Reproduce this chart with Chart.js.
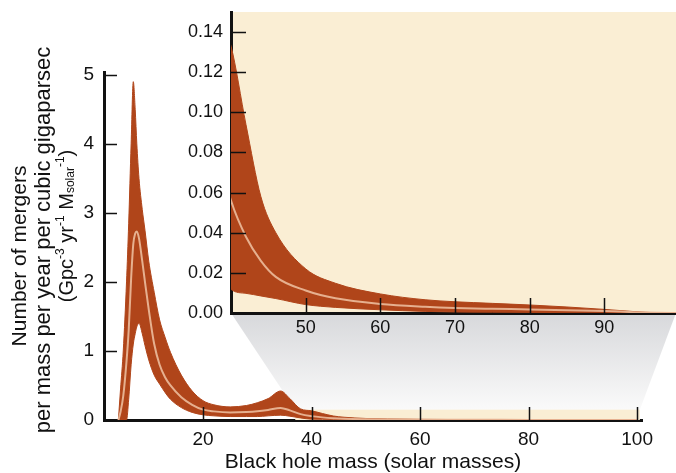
<!DOCTYPE html>
<html lang="en">
<head>
  <meta charset="UTF-8" />
  <title>Black hole merger rate</title>
  <script src="https://cdn.jsdelivr.net/npm/chart.js"></script>
  <style>
    html, body { margin: 0; padding: 0; background: #fff; }
    .wrap { position: relative; width: 676px; height: 473px; }
    .wrap canvas { position: absolute; left: 0; top: 0; }
  </style>
</head>
<body>
  <div class="wrap">
    <canvas id="mainChart" width="676" height="473"></canvas>
    <canvas id="insetChart" width="676" height="473"></canvas>
  </div>

  <script>
    // black hole mass (solar masses)
    const massX = [4.4, 4.8, 5.3, 5.9, 6.3, 6.75, 7.15, 7.5, 7.8, 8.2, 8.8, 9.3, 10, 11, 12, 13, 14, 16, 18, 20,
      22, 25, 28, 30, 32, 34.3, 36, 38, 40, 42, 44, 46, 50, 54, 60, 66, 70, 75, 80, 85, 90, 94, 97, 100];
    // upper edge of the band
    const upperRate = [0, 0.45, 1.0, 2.0, 2.85, 4.0, 4.9, 4.5, 4.0, 3.5, 3.05, 2.75, 2.3, 1.85, 1.45, 1.2, 0.98, 0.65, 0.42, 0.28,
      0.22, 0.19, 0.21, 0.25, 0.31, 0.42, 0.31, 0.16, 0.133, 0.094, 0.058, 0.04, 0.022, 0.0148, 0.0095, 0.0066, 0.0056, 0.0048, 0.004, 0.003, 0.0018, 0.0007, 0.0001, 0];
    // median (light line)
    const medianRate = [0, 0.12, 0.35, 0.85, 1.3, 2.05, 2.55, 2.7, 2.73, 2.63, 2.3, 2.0, 1.6, 1.1, 0.8, 0.62, 0.5, 0.33, 0.22, 0.15,
      0.125, 0.11, 0.115, 0.125, 0.145, 0.175, 0.14, 0.085, 0.056, 0.038, 0.026, 0.018, 0.0112, 0.0073, 0.0045, 0.0031, 0.0025, 0.0021, 0.0018, 0.0014, 0.001, 0.0004, 0.0001, 0];
    // lower edge of the band
    const lowerRate = [0, 0, 0, 0, 0.3, 0.8, 1.1, 1.25, 1.35, 1.4, 1.25, 1.08, 0.87, 0.65, 0.52, 0.4, 0.3, 0.18, 0.11, 0.075,
      0.06, 0.05, 0.05, 0.05, 0.06, 0.07, 0.055, 0.03, 0.0118, 0.0098, 0.0085, 0.0072, 0.0042, 0.0028, 0.0016, 0.0008, 0.0005, 0.0004, 0.0003, 0.0002, 0.0001, 0, 0, 0];

    const mainXTicks = [20, 40, 60, 80, 100];
    const mainYTicks = [0, 1, 2, 3, 4, 5];
    const insetXTicks = [50, 60, 70, 80, 90];
    const insetYTicks = [0, 0.02, 0.04, 0.06, 0.08, 0.10, 0.12, 0.14];

    // zoomed window shown in the inset
    const zoomBoxX = [37, 100.5];
    const zoomBoxY = [0, 0.15];

    const xTitle = 'Black hole mass (solar masses)';
    const yTitleLines = ['Number of mergers', 'per mass per year per cubic gigaparsec'];

    const bandColor = '#b0451a';
    const medianColor = '#e6b08f';
    const cream = '#faeed4';
    const ink = '#111111';

    Chart.defaults.font.family = "'Liberation Sans', Arial, sans-serif";
    Chart.defaults.color = ink;

    const pts = arr => massX.map((x, i) => ({ x: x, y: arr[i] }));

    // median first so it is painted last (on top of the band)
    function makeDatasets() {
      return [
        { data: pts(medianRate), borderColor: medianColor, borderWidth: 2, pointRadius: 0, fill: false, cubicInterpolationMode: 'monotone' },
        { data: pts(lowerRate), borderColor: bandColor, borderWidth: 1, pointRadius: 0, fill: false, cubicInterpolationMode: 'monotone' },
        { data: pts(upperRate), borderColor: bandColor, borderWidth: 1, pointRadius: 0, backgroundColor: bandColor, fill: '-1', cubicInterpolationMode: 'monotone' },
      ];
    }

    // tick marks that point into the plot area
    function inwardTicks(len) {
      return {
        id: 'inwardTicks',
        afterDraw(chart) {
          const { ctx, chartArea: a, scales: { x, y } } = chart;
          ctx.save();
          ctx.strokeStyle = ink;
          ctx.lineWidth = 1.5;
          ctx.beginPath();
          x.ticks.forEach(t => {
            const px = Math.round(x.getPixelForValue(t.value)) + 0.5;
            ctx.moveTo(px, a.bottom);
            ctx.lineTo(px, a.bottom - len);
          });
          y.ticks.forEach(t => {
            const py = Math.round(y.getPixelForValue(t.value)) + 0.5;
            ctx.moveTo(a.left, py);
            ctx.lineTo(a.left + len, py);
          });
          ctx.stroke();
          ctx.restore();
        }
      };
    }

    const noPadX = s => { s.paddingLeft = 0; s.paddingRight = 0; };
    const noPadY = s => { s.paddingTop = 0; s.paddingBottom = 0; };

    // ---------- inset ----------
    const insetBg = {
      id: 'insetBg',
      beforeDraw(chart) {
        const { ctx, chartArea: a } = chart;
        ctx.save();
        ctx.fillStyle = cream;
        ctx.fillRect(a.left, a.top, a.right - a.left, a.bottom - a.top);
        ctx.restore();
      }
    };

    const insetChart = new Chart(document.getElementById('insetChart'), {
      type: 'line',
      data: { datasets: makeDatasets() },
      options: {
        responsive: false,
        animation: false,
        layout: { padding: { left: 0, right: 0, top: 12, bottom: 0 } },
        plugins: { legend: { display: false }, tooltip: { enabled: false } },
        scales: {
          x: {
            type: 'linear', min: 40, max: 99.6, z: 1,
            afterBuildTicks: s => { s.ticks = insetXTicks.map(v => ({ value: v })); },
            afterFit: s => { s.height = 160; noPadX(s); },
            grid: { display: false, drawTicks: false },
            border: { display: true, color: ink, width: 3 },
            ticks: { padding: 4, maxRotation: 0, font: { size: 18 } }
          },
          y: {
            type: 'linear', min: 0, max: 0.15, z: 1,
            afterBuildTicks: s => { s.ticks = insetYTicks.map(v => ({ value: v })); },
            afterFit: s => { s.width = 231; noPadY(s); },
            grid: { display: false, drawTicks: false },
            border: { display: true, color: ink, width: 3 },
            ticks: { padding: 8, font: { size: 18 }, callback: v => Number(v).toFixed(2) }
          }
        }
      },
      plugins: [insetBg, inwardTicks(15)]
    });

    // ---------- main chart ----------
    const zoomGuide = {
      id: 'zoomGuide',
      beforeDatasetsDraw(chart) {
        const { ctx, scales: { x, y } } = chart;
        const ia = insetChart.chartArea;
        const bx0 = x.getPixelForValue(zoomBoxX[0]);
        const bx1 = x.getPixelForValue(zoomBoxX[1]);
        const by0 = y.getPixelForValue(zoomBoxY[0]);
        const by1 = y.getPixelForValue(zoomBoxY[1]);
        const g = ctx.createLinearGradient(0, ia.bottom, 0, by1);
        g.addColorStop(0, '#d7d8db');
        g.addColorStop(1, '#fafafa');
        ctx.save();
        ctx.fillStyle = g;
        ctx.beginPath();
        ctx.moveTo(ia.left, ia.bottom);
        ctx.lineTo(ia.right, ia.bottom);
        ctx.lineTo(bx1, by1);
        ctx.lineTo(bx0, by1);
        ctx.closePath();
        ctx.fill();
        ctx.fillStyle = cream;
        ctx.fillRect(bx0, by1, bx1 - bx0, by0 - by1);
        ctx.restore();
      }
    };

    // y title drawn by hand so it can run past the axis and carry sub/superscripts
    const yTitle = {
      id: 'yTitle',
      afterDraw(chart) {
        const { ctx } = chart;
        const fam = Chart.defaults.font.family;
        const xs = [20, 44, 67];
        const cys = [256, 240, 226];
        const sizes = [21, 22];
        ctx.save();
        ctx.fillStyle = ink;
        ctx.textBaseline = 'middle';
        yTitleLines.forEach((line, i) => {
          ctx.save();
          ctx.translate(xs[i], cys[i]);
          ctx.rotate(-Math.PI / 2);
          ctx.textAlign = 'center';
          ctx.font = sizes[i] + 'px ' + fam;
          ctx.fillText(line, 0, 0);
          ctx.restore();
        });
        const big = 20, small = 12;
        const parts = [
          { t: '(Gpc', s: big, dy: 0 }, { t: '-3', s: small, dy: -6 },
          { t: ' yr', s: big, dy: 0 }, { t: '-1', s: small, dy: -6 },
          { t: ' M', s: big, dy: 0 }, { t: 'solar', s: small, dy: 4 },
          { t: '-1', s: small, dy: -6 }, { t: ')', s: big, dy: 0 }
        ];
        let total = 0;
        parts.forEach(p => { ctx.font = p.s + 'px ' + fam; p.w = ctx.measureText(p.t).width; total += p.w; });
        ctx.translate(xs[2], cys[2]);
        ctx.rotate(-Math.PI / 2);
        ctx.textAlign = 'left';
        let cx = -total / 2;
        parts.forEach(p => {
          ctx.font = p.s + 'px ' + fam;
          ctx.fillText(p.t, cx, p.dy);
          cx += p.w;
        });
        ctx.restore();
      }
    };

    new Chart(document.getElementById('mainChart'), {
      type: 'line',
      data: { datasets: makeDatasets() },
      options: {
        responsive: false,
        animation: false,
        layout: { padding: { left: 0, right: 34, top: 72, bottom: 0 } },
        plugins: { legend: { display: false }, tooltip: { enabled: false } },
        scales: {
          x: {
            type: 'linear', min: 1.75, max: 100.9, z: 1,
            afterBuildTicks: s => { s.ticks = mainXTicks.map(v => ({ value: v })); },
            afterFit: s => { s.height = 53; noPadX(s); },
            grid: { display: false, drawTicks: false },
            border: { display: true, color: ink, width: 3 },
            ticks: { padding: 8, maxRotation: 0, font: { size: 19 } },
            title: { display: true, text: xTitle, font: { size: 21, lineHeight: 1 }, padding: { top: 0, bottom: 0 } }
          },
          y: {
            type: 'linear', min: 0, max: 5.04, z: 1,
            afterBuildTicks: s => { s.ticks = mainYTicks.map(v => ({ value: v })); },
            afterFit: s => { s.width = 104; noPadY(s); },
            grid: { display: false, drawTicks: false },
            border: { display: true, color: ink, width: 3 },
            ticks: { padding: 10, font: { size: 19 } }
          }
        }
      },
      plugins: [zoomGuide, inwardTicks(13), yTitle]
    });
  </script>
</body>
</html>
